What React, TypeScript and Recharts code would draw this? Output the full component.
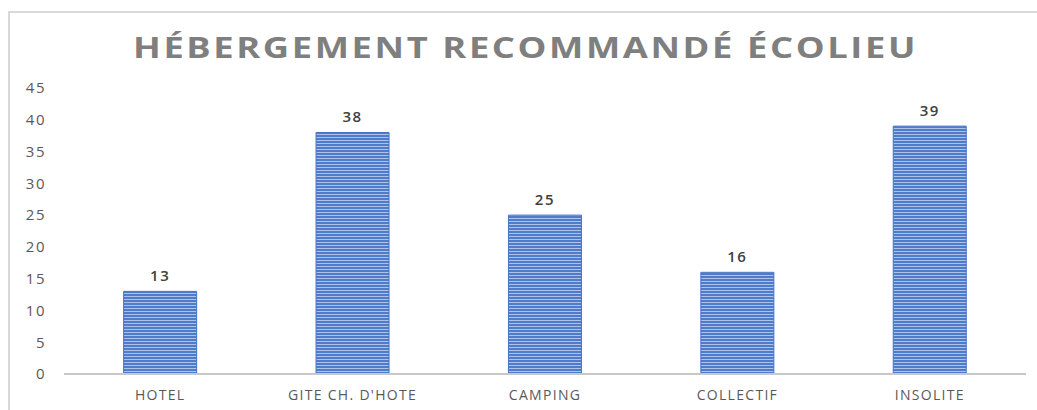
import React from "react";
import { BarChart, Bar, XAxis, YAxis, LabelList } from "recharts";

const categories = ["HOTEL", "GITE CH. D'HOTE", "CAMPING", "COLLECTIF", "INSOLITE"];
const values = [13, 38, 25, 16, 39];
const yTicks = [0, 5, 10, 15, 20, 25, 30, 35, 40, 45];
const title = "HÉBERGEMENT RECOMMANDÉ ÉCOLIEU";

const data = categories.map((name, i) => ({ name, value: values[i] }));

export default function App() {
  return (
    <div style={{ position: "absolute", left: 0, top: 0, width: 1037, height: 410, background: "#fff", overflow: "hidden" }}>
      <div style={{ position: "absolute", left: 8, top: 11, width: 1040, height: 420, borderTop: "2px solid #d9d9d9", borderLeft: "2px solid #d9d9d9", boxSizing: "border-box" }} />
      <BarChart
        width={1037}
        height={410}
        data={data}
        margin={{ top: 88, right: 11, bottom: 0, left: 0 }}
        barCategoryGap="31%"
        style={{ position: "absolute", left: 0, top: 0 }}
      >
        <defs>
          <pattern id="stripes" width="8" height="3" patternUnits="userSpaceOnUse">
            <rect x="0" y="0" width="8" height="3" fill="#aec2ea" />
            <rect x="0" y="0" width="8" height="2" fill="#4f7bcb" />
          </pattern>
        </defs>
        <text
          x={133}
          y={47}
          textAnchor="start"
          dominantBaseline="central"
          textLength={785}
          lengthAdjust="spacingAndGlyphs"
          style={{ fontFamily: "'Open Sans', sans-serif", fontWeight: 700, fontSize: 28, letterSpacing: 2, fill: "#7f7f7f" }}
        >
          {title}
        </text>
        <XAxis
          dataKey="name"
          height={36}
          tickSize={0}
          tickMargin={16}
          axisLine={{ stroke: "#c8c8c8", strokeWidth: 2 }}
          tickLine={false}
          tick={{ fill: "#595959", fontSize: 14, fontFamily: "'Open Sans', sans-serif", letterSpacing: 1.3 }}
          interval={0}
        />
        <YAxis
          width={64}
          domain={[0, 45]}
          ticks={yTicks}
          interval={0}
          tickSize={0}
          tickMargin={18}
          axisLine={false}
          tickLine={false}
          tick={{ fill: "#595959", fontSize: 15, fontFamily: "'Open Sans', sans-serif", letterSpacing: 1.5 }}
        />
        <Bar dataKey="value" fill="url(#stripes)" stroke="#4472c4" strokeWidth={1} isAnimationActive={false}>
          <LabelList
            dataKey="value"
            position="top"
            offset={10}
            style={{ fill: "#404040", fontSize: 15, fontWeight: 600, fontFamily: "'Open Sans', sans-serif", letterSpacing: 1.5 }}
          />
        </Bar>
      </BarChart>
    </div>
  );
}
